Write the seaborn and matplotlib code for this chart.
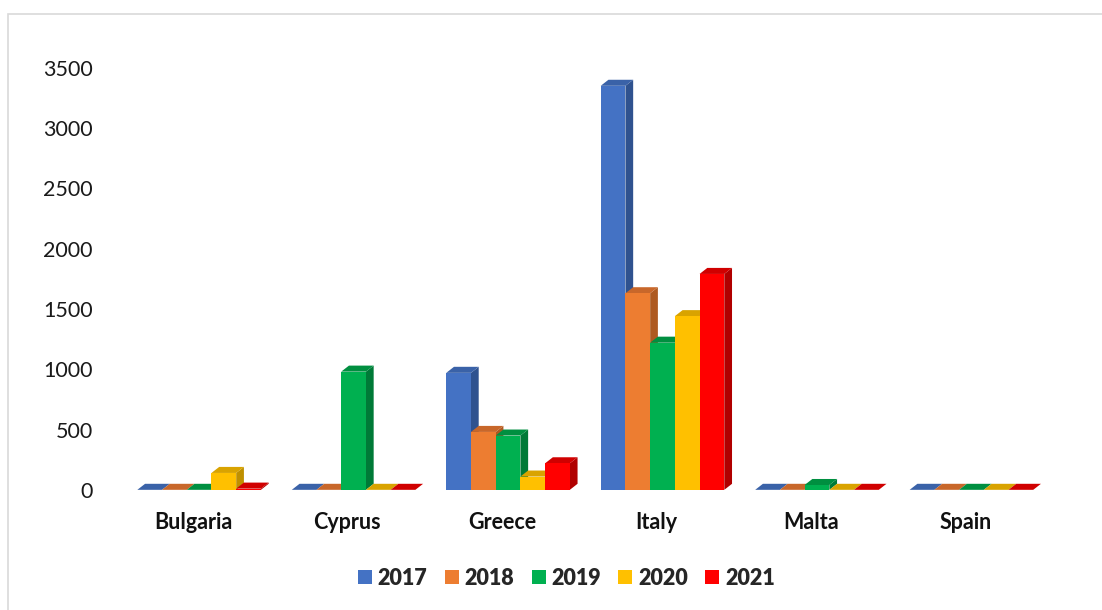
import numpy as np
import pandas as pd
import matplotlib
matplotlib.use("Agg")
import matplotlib.pyplot as plt
from matplotlib.patches import Polygon, Rectangle, Patch
import matplotlib.colors as mcolors
import seaborn as sns

countries = ["Bulgaria", "Cyprus", "Greece", "Italy", "Malta", "Spain"]
years = ["2017", "2018", "2019", "2020", "2021"]
v2017 = [0, 0, 970, 3350, 0, 0]
v2018 = [0, 0, 480, 1630, 0, 0]
v2019 = [0, 980, 450, 1220, 40, 0]
v2020 = [140, 0, 110, 1440, 0, 0]
v2021 = [10, 0, 220, 1790, 0, 0]
colors = ["#4472C4", "#ED7D31", "#00B050", "#FFC000", "#FF0000"]
side_colors = ["#2F528F", "#AE5A21", "#007A37", "#BF9000", "#B00000"]
top_colors = ["#3A62A8", "#C8672A", "#008F40", "#D9A300", "#D00000"]

series = [v2017, v2018, v2019, v2020, v2021]
rows = []
for y, vals in zip(years, series):
    for c, v in zip(countries, vals):
        rows.append({"country": c, "year": y, "value": v})
df = pd.DataFrame(rows)

sns.set_theme(style="white")
plt.rcParams["font.family"] = ["Lato", "DejaVu Sans"]

fig = plt.figure(figsize=(11.02, 6.10), dpi=100)
ax = fig.add_axes([0.105, 0.197, 0.841, 0.692])

sns.barplot(data=df, x="country", y="value", hue="year", order=countries,
            hue_order=years, palette=colors, saturation=1, width=0.8,
            legend=False, ax=ax, zorder=2)

ax.set_ylim(0, 3500)
ax.set_xlim(-0.5, len(countries) - 0.5)

# pseudo-3D faces derived from each bar
dx = 0.05
dy = 50
shift = 0.04
ucolors = [c.upper() for c in colors]
bars = [p for p in ax.patches if isinstance(p, Rectangle)]
for p in bars:
    fc = mcolors.to_hex(p.get_facecolor(), keep_alpha=False).upper()
    idx = ucolors.index(fc) if fc in ucolors else 0
    p.set_x(p.get_x() + shift)
    x, w, h = p.get_x(), p.get_width(), p.get_height()
    p.set_edgecolor("none")
    side = Polygon([(x + w, 0), (x + w + dx, dy), (x + w + dx, h + dy), (x + w, h)],
                   closed=True, facecolor=side_colors[idx], edgecolor="none", zorder=1)
    top = Polygon([(x, h), (x + dx, h + dy), (x + w + dx, h + dy), (x + w, h)],
                  closed=True, facecolor=top_colors[idx], edgecolor="none", zorder=1.5)
    ax.add_patch(side)
    ax.add_patch(top)

ax.set_yticks(np.arange(0, 3501, 500))
ax.set_yticklabels([str(t) for t in range(0, 3501, 500)], fontsize=15.5, color="#1a1a1a")
ax.set_xticks(range(len(countries)))
ax.set_xticklabels(countries, fontsize=15.5, fontweight="bold", color="#111111")
ax.tick_params(axis="x", pad=16, length=0)
ax.tick_params(axis="y", pad=16.5, length=0)
ax.set_xlabel("")
ax.set_ylabel("")
for s in ax.spines.values():
    s.set_visible(False)
ax.grid(False)

handles = [Patch(facecolor=c, edgecolor="none") for c in colors]
fig.legend(handles, years, loc="center", bbox_to_anchor=(0.514, 0.052), ncol=5,
           frameon=False, prop={"size": 15.5, "weight": "heavy"},
           handlelength=0.65, handleheight=0.65, handletextpad=0.28, columnspacing=0.8)

# chart border
fig.patches.append(Rectangle((0.007, -0.05), 1.1, 1.027, transform=fig.transFigure,
                             fill=False, edgecolor="#D9D9D9", linewidth=1.2))

fig.savefig("out.png", dpi=100)
